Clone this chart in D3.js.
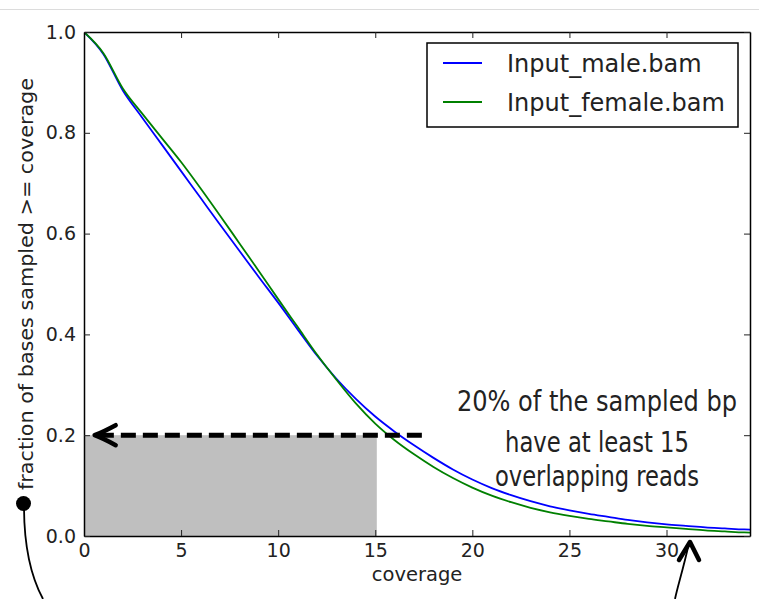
<!DOCTYPE html>
<html>
<head>
<meta charset="utf-8">
<script src="https://cdn.jsdelivr.net/npm/d3@7"></script>
<style>
  body { margin: 0; background: #fff; }
  svg { display: block; }
  text { font-family: "DejaVu Sans", sans-serif; fill: #222; }
</style>
</head>
<body>
<div id="wrapper"></div>
<script>
// coverage values (x) and the two cumulative curves
const coverage = d3.range(0, 36);
const maleValues = [1.0, 0.956, 0.884, 0.83, 0.777, 0.724, 0.671, 0.618, 0.566, 0.514,
  0.463, 0.41, 0.358, 0.312, 0.272, 0.237, 0.207, 0.18, 0.155, 0.132,
  0.112, 0.095, 0.081, 0.069, 0.059, 0.051, 0.044, 0.038, 0.032, 0.027,
  0.023, 0.02, 0.017, 0.015, 0.013, 0.012];
const femaleValues = [1.0, 0.958, 0.888, 0.838, 0.79, 0.742, 0.69, 0.636, 0.581, 0.526,
  0.47, 0.415, 0.36, 0.31, 0.263, 0.223, 0.19, 0.162, 0.137, 0.115,
  0.096, 0.08, 0.067, 0.056, 0.047, 0.04, 0.034, 0.029, 0.024, 0.02,
  0.017, 0.014, 0.011, 0.009, 0.007, 0.006];
const seriesNames = ["Input_male.bam", "Input_female.bam"];
const seriesColors = ["#0000ff", "#008000"];
const xTicks = [0, 5, 10, 15, 20, 25, 30];
const yTicks = [0, 0.2, 0.4, 0.6, 0.8, 1.0];
const xMax = 34.3;
const shadeX = 15.08;      // shaded block: coverage 0..15
const shadeY = 0.2;        // fraction 0..0.2
const arrowFrom = 17.4;    // dashed arrow start (coverage)
const arrowTo = 0.55;
const noteLines = ["20% of the sampled bp", "have at least 15", "overlapping reads"];

let dimensions = {
  width: 759,
  height: 599,
  margin: { top: 32, right: 9, bottom: 63, left: 84 }
};
dimensions.boundedWidth = dimensions.width - dimensions.margin.left - dimensions.margin.right;
dimensions.boundedHeight = dimensions.height - dimensions.margin.top - dimensions.margin.bottom;

const wrapper = d3.select("#wrapper").append("svg")
  .attr("width", dimensions.width)
  .attr("height", dimensions.height);

// thin grey rule at the very top of the screenshot
wrapper.append("line")
  .attr("x1", 0).attr("x2", dimensions.width)
  .attr("y1", 9.5).attr("y2", 9.5)
  .attr("stroke", "#dcdcdc").attr("stroke-width", 1);

const bounds = wrapper.append("g")
  .attr("transform", `translate(${dimensions.margin.left},${dimensions.margin.top})`);

const xScale = d3.scaleLinear().domain([0, xMax]).range([0, dimensions.boundedWidth]);
const yScale = d3.scaleLinear().domain([0, 1]).range([dimensions.boundedHeight, 0]);

bounds.append("clipPath").attr("id", "plotClip")
  .append("rect")
  .attr("width", dimensions.boundedWidth)
  .attr("height", dimensions.boundedHeight);

// shaded region
bounds.append("rect")
  .attr("x", xScale(0))
  .attr("y", yScale(shadeY))
  .attr("width", xScale(shadeX) - xScale(0))
  .attr("height", yScale(0) - yScale(shadeY))
  .attr("fill", "#bfbfbf");

// curves
const lineGenerator = d3.line()
  .x((d, i) => xScale(coverage[i]))
  .y(d => yScale(d))
  .curve(d3.curveMonotoneX);

const plot = bounds.append("g").attr("clip-path", "url(#plotClip)");
[maleValues, femaleValues].forEach((vals, i) => {
  plot.append("path")
    .attr("d", lineGenerator(vals))
    .attr("fill", "none")
    .attr("stroke", seriesColors[i])
    .attr("stroke-width", 1.8)
    .attr("stroke-linejoin", "round");
});

// dashed arrow at 0.2
const ay = yScale(shadeY);
bounds.append("line")
  .attr("x1", xScale(arrowFrom)).attr("x2", xScale(arrowTo) + 4)
  .attr("y1", ay).attr("y2", ay)
  .attr("stroke", "#000").attr("stroke-width", 5)
  .attr("stroke-dasharray", "15,7");
const tipX = xScale(arrowTo);
bounds.append("path")
  .attr("d", `M${tipX + 21},${ay - 10} Q${tipX + 8},${ay - 3} ${tipX},${ay} Q${tipX + 8},${ay + 3} ${tipX + 21},${ay + 10}`)
  .attr("fill", "none").attr("stroke", "#000").attr("stroke-width", 4.5)
  .attr("stroke-linecap", "round").attr("stroke-linejoin", "round");

// axes (matplotlib-style box with inward ticks)
const fmt = d3.format(".1f");
const xAxis = bounds.append("g")
  .attr("transform", `translate(0,${dimensions.boundedHeight})`)
  .call(d3.axisBottom(xScale).tickValues(xTicks).tickSizeInner(-6).tickSizeOuter(0).tickPadding(8).tickFormat(d3.format("d")));
const xTop = bounds.append("g")
  .call(d3.axisTop(xScale).tickValues(xTicks).tickSizeInner(-6).tickSizeOuter(0).tickFormat(""));
const yAxis = bounds.append("g")
  .call(d3.axisLeft(yScale).tickValues(yTicks).tickSizeInner(-6).tickSizeOuter(0).tickPadding(8).tickFormat(fmt));
const yRight = bounds.append("g")
  .attr("transform", `translate(${dimensions.boundedWidth},0)`)
  .call(d3.axisRight(yScale).tickValues(yTicks).tickSizeInner(-6).tickSizeOuter(0).tickFormat(""));

[xAxis, xTop, yAxis, yRight].forEach(ax => {
  ax.select(".domain").attr("stroke", "#000").attr("stroke-width", 1.5);
  ax.selectAll(".tick line").attr("stroke", "#222").attr("stroke-width", 1);
  ax.selectAll("text")
    .style("font-family", "'DejaVu Sans', sans-serif")
    .style("font-size", "19px")
    .attr("fill", "#222");
});

// axis titles
wrapper.append("text")
  .attr("x", dimensions.margin.left + dimensions.boundedWidth / 2)
  .attr("y", 581)
  .attr("text-anchor", "middle")
  .style("font-size", "19.5px")
  .text("coverage");

wrapper.append("text")
  .attr("transform", `translate(33,284) rotate(-90)`)
  .attr("text-anchor", "middle")
  .attr("textLength", 412)
  .attr("lengthAdjust", "spacingAndGlyphs")
  .style("font-size", "20px")
  .text("fraction of bases sampled >= coverage");

// legend
const legend = wrapper.append("g").attr("transform", "translate(427,43)");
legend.append("rect")
  .attr("width", 311).attr("height", 84)
  .attr("fill", "#fff").attr("stroke", "#000").attr("stroke-width", 1.5);
seriesNames.forEach((name, i) => {
  const ly = 20 + i * 39;
  legend.append("line")
    .attr("x1", 16).attr("x2", 55).attr("y1", ly).attr("y2", ly)
    .attr("stroke", seriesColors[i]).attr("stroke-width", 1.8);
  legend.append("text")
    .attr("x", 80).attr("y", ly + 9)
    .style("font-size", "24px")
    .text(name);
});

// annotation
const note = wrapper.append("g");
const noteBase = [411, 452, 486];
const noteWidth = [280, 184, 204];
noteLines.forEach((t, i) => {
  note.append("text")
    .attr("x", 597).attr("y", noteBase[i])
    .attr("text-anchor", "middle")
    .attr("textLength", noteWidth[i])
    .attr("lengthAdjust", "spacingAndGlyphs")
    .style("font-family", "'DejaVu Sans Condensed', 'Liberation Sans Narrow', sans-serif")
    .style("font-weight", 200)
    .style("font-size", "28px")
    .attr("fill", "#111")
    .text(t);
});

// hand-drawn pointers
wrapper.append("circle").attr("cx", 23.5).attr("cy", 503.5).attr("r", 7.5).attr("fill", "#000");
wrapper.append("path")
  .attr("d", "M24,506 C24,545 30,575 43,599")
  .attr("fill", "none").attr("stroke", "#000").attr("stroke-width", 1.8);

wrapper.append("path")
  .attr("d", "M675,599 C678,585 683,570 689,543")
  .attr("fill", "none").attr("stroke", "#000").attr("stroke-width", 1.8);
wrapper.append("path")
  .attr("d", "M679,560 L690,542 L699,560")
  .attr("fill", "none").attr("stroke", "#000").attr("stroke-width", 4.5)
  .attr("stroke-linecap", "round").attr("stroke-linejoin", "round");
</script>
</body>
</html>
